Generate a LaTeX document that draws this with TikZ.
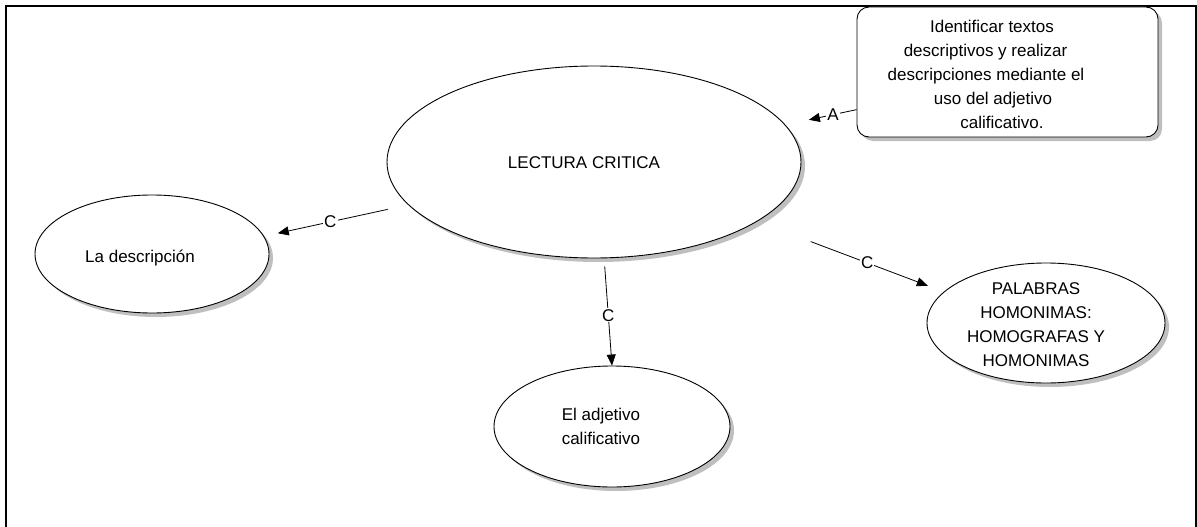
\documentclass[tikz,border=0pt]{standalone}
\usepackage{fontspec}
\setmainfont{Liberation Sans}
\usetikzlibrary{shapes.geometric,shadows,arrows.meta}
\begin{document}
\begin{tikzpicture}[x=1pt,y=-1pt,
  every node/.style={font=\fontsize{17}{24}\selectfont},
  shad/.style={drop shadow={shadow xshift=4pt, shadow yshift=-4pt, fill=black!25, opacity=1}},
  ell/.style={ellipse, draw=black, line width=0.9pt, fill=white, inner sep=0pt, shad},
  rbox/.style={rectangle, rounded corners=12pt, draw=black, line width=0.9pt, fill=white, inner sep=0pt, shad},
  txt/.style={inner sep=0pt, align=center},
  conn/.style={draw=black, line width=0.8pt, -{Triangle[length=11pt,width=9pt]}},
  lab/.style={fill=white, inner sep=1pt}
]
\useasboundingbox (0,0) rectangle (1197,527);
\draw[line width=2pt] (6,527) -- (6,6.5) -- (1196,6.5) -- (1196,527);

% shapes
\node[ell, minimum width=414pt, minimum height=192pt] (lect) at (594,162) {};
\node[ell, minimum width=234pt, minimum height=118pt] (desc) at (152,254) {};
\node[ell, minimum width=236pt, minimum height=121pt] (adj) at (612,426.5) {};
\node[ell, minimum width=238pt, minimum height=120pt] (pal) at (1046,323) {};
\node[rbox, minimum width=301pt, minimum height=130pt] (box) at (1007.5,72) {};

% texts
\node[txt, anchor=base] (lectT) at (584,168.5) {LECTURA CRITICA};
\node[txt, anchor=base] (descT) at (140,262) {La descripción};
\node[txt] (adjT) at (601,426) {El adjetivo\\calificativo};
\node[txt] (palT) at (1036,325) {PALABRAS\\HOMONIMAS:\\HOMOGRAFAS Y\\HOMONIMAS};
\node[txt] (boxT) at (1002,74) {Identificar textos\rule{20pt}{0pt}\\descriptivos y realizar\rule{33pt}{0pt}\\descripciones mediante el\rule{32pt}{0pt}\\uso del adjetivo\rule{18pt}{0pt}\\calificativo.};

% connectors
\draw[conn, shorten <=21pt, shorten >=14pt] (lect.193) -- node[lab, pos=0.54] (c1) {C} (desc.9);
\draw[conn, shorten <=8pt] (lect.276) -- node[lab, pos=0.53] (c2) {C} (adj.north);
\draw[conn, shorten <=57pt, shorten >=17pt] (lect.340) -- node[lab, pos=0.59] (c3) {C} (pal.163);
\draw[conn, shorten >=24pt] (box.194) -- node[lab, pos=0.33] (a1) {A} (lect.11);
\end{tikzpicture}
\end{document}
